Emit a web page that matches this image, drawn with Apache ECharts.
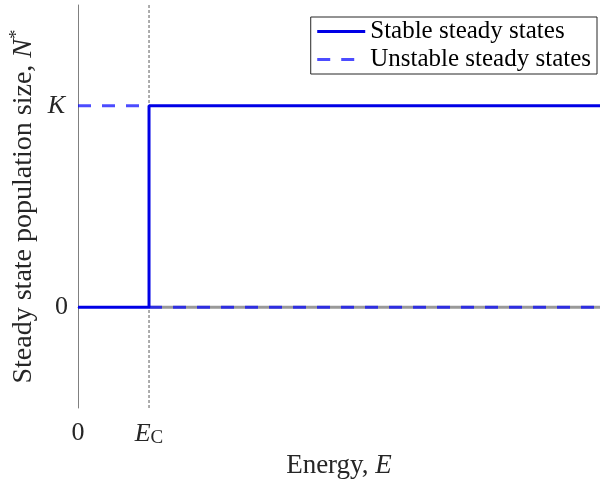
<!DOCTYPE html>
<html>
<head>
<meta charset="utf-8">
<script src="https://cdn.jsdelivr.net/npm/echarts@6/dist/echarts.min.js"></script>
<style>
  html, body { margin: 0; padding: 0; background: #fff; }
  #chart { width: 600px; height: 479px; }
</style>
</head>
<body>
<div id="chart"></div>
<script>
// Critical energy and carrying capacity (scaled units)
const energyCritical = 1;
const carryingCapacity = 1;
const energyMax = 7.35;
const popMin = -0.5;
const popMax = 1.5;

// Stable branch: zero below E_c, jumps to K at E_c
const stableX = [0, energyCritical, energyCritical, energyMax];
const stableY = [0, 0, carryingCapacity, carryingCapacity];

// Unstable branches: K below E_c, zero above E_c
const unstableKX = [0, energyCritical];
const unstableKY = [carryingCapacity, carryingCapacity];
const unstableZeroX = [energyCritical, energyMax];
const unstableZeroY = [0, 0];

// Tick labels
const xTickValues = [0, energyCritical];
const yTickValues = [0, carryingCapacity];

const FONT = 'Liberation Serif';
const TEXT = '#262626';
const pair = (xs, ys) => xs.map((x, i) => [x, ys[i]]);

const chart = echarts.init(document.getElementById('chart'), null, { renderer: 'canvas' });

chart.setOption({
  animation: false,
  backgroundColor: '#ffffff',
  textStyle: { fontFamily: FONT },
  grid: { left: 78, right: 0, top: 5, bottom: 71, containLabel: false, outerBoundsMode: 'none' },
  legend: {
    orient: 'vertical',
    right: 3,
    top: 17,
    data: ['Stable steady states', 'Unstable steady states'],
    backgroundColor: '#ffffff',
    borderColor: '#262626',
    borderWidth: 1,
    borderRadius: 0,
    padding: [2, 6, 2, 5],
    itemGap: 3,
    itemWidth: 48,
    itemHeight: 26,
    itemStyle: { opacity: 0 },
    lineStyle: { width: 3 },
    textStyle: { fontFamily: FONT, fontSize: 25, color: '#000' }
  },
  xAxis: {
    type: 'value',
    min: 0,
    max: energyMax,
    interval: 1,
    name: '{n|Energy, }{i|E}',
    nameLocation: 'middle',
    nameGap: 44,
    nameMoveOverlap: false,
    nameTextStyle: {
      rich: {
        n: { fontFamily: FONT, fontSize: 27, color: TEXT },
        i: { fontFamily: FONT, fontSize: 27, fontStyle: 'italic', color: TEXT }
      }
    },
    axisLine: { show: true, lineStyle: { color: '#808080', width: 1 } },
    axisTick: { show: false },
    splitLine: { show: false },
    axisLabel: {
      margin: 12,
      showMaxLabel: false,
      formatter: v => {
        if (v === xTickValues[0]) return '{n|0}';
        if (v === xTickValues[1]) return '{i|E}{s|C}';
        return '';
      },
      rich: {
        n: { fontFamily: FONT, fontSize: 26, color: TEXT },
        i: { fontFamily: FONT, fontSize: 26, fontStyle: 'italic', color: TEXT },
        s: { fontFamily: FONT, fontSize: 19, color: TEXT, verticalAlign: 'bottom', padding: [9, 0, 0, 0] }
      }
    }
  },
  yAxis: {
    type: 'value',
    min: popMin,
    max: popMax,
    interval: 0.5,
    name: '{n|Steady state population size, }{i|N}{s|*}',
    nameLocation: 'middle',
    nameGap: 39,
    nameMoveOverlap: false,
    nameTextStyle: {
      rich: {
        n: { fontFamily: FONT, fontSize: 28, color: TEXT },
        i: { fontFamily: FONT, fontSize: 28, fontStyle: 'italic', color: TEXT },
        s: { fontFamily: FONT, fontSize: 19, color: TEXT, verticalAlign: 'top', padding: [0, 0, 12, 0] }
      }
    },
    axisLine: { show: true, lineStyle: { color: '#808080', width: 1 } },
    axisTick: { show: false },
    splitLine: { show: false },
    axisLabel: {
      margin: 10,
      formatter: v => {
        if (v === yTickValues[0]) return '{n|0}';
        if (v === yTickValues[1]) return '{i|K}';
        return '';
      },
      rich: {
        n: { fontFamily: FONT, fontSize: 26, color: TEXT },
        i: { fontFamily: FONT, fontSize: 26, fontStyle: 'italic', color: TEXT, padding: [0, 3, 0, 0] }
      }
    }
  },
  series: [
    {
      name: 'critical',
      type: 'line',
      data: [[energyCritical, popMin], [energyCritical, popMax]],
      showSymbol: false,
      symbol: 'none',
      silent: true,
      lineStyle: { color: '#808080', width: 1.3, type: [3, 2] },
      z: 1
    },
    {
      name: 'zeroGuide',
      type: 'line',
      data: pair(unstableZeroX, unstableZeroY),
      showSymbol: false,
      symbol: 'none',
      silent: true,
      lineStyle: { color: '#999999', width: 3 },
      z: 2
    },
    {
      name: 'Unstable steady states',
      type: 'line',
      data: pair(unstableKX, unstableKY),
      showSymbol: false,
      symbol: 'none',
      color: 'rgba(0,0,255,0.7)',
      lineStyle: { color: 'rgba(0,0,255,0.7)', width: 3, type: [13, 11] },
      z: 3
    },
    {
      name: 'Unstable steady states',
      type: 'line',
      data: pair(unstableZeroX, unstableZeroY),
      showSymbol: false,
      symbol: 'none',
      color: 'rgba(0,0,255,0.7)',
      lineStyle: { color: 'rgba(0,0,255,0.7)', width: 3, type: [13, 11] },
      z: 3
    },
    {
      name: 'Stable steady states',
      type: 'line',
      data: pair(stableX, stableY),
      showSymbol: false,
      symbol: 'none',
      color: '#0000e6',
      lineStyle: { color: '#0000e6', width: 3 },
      z: 4
    }
  ]
});
</script>
</body>
</html>
